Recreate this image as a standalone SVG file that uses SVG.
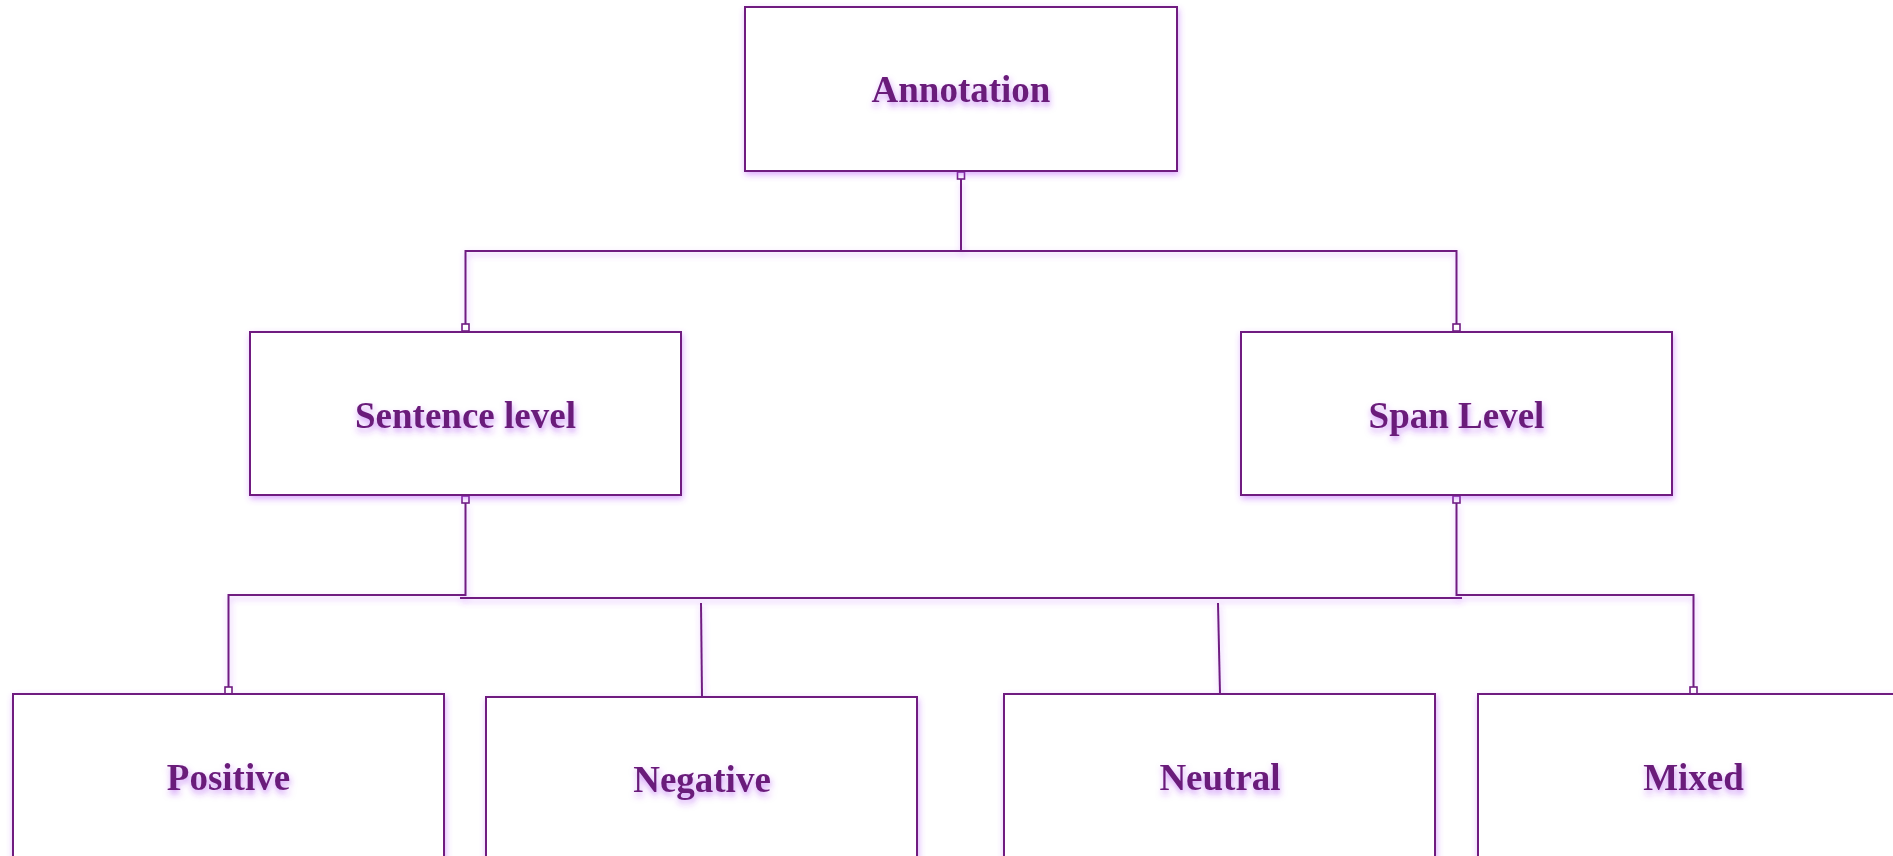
<svg xmlns="http://www.w3.org/2000/svg" width="1893" height="856" viewBox="0 0 1893 856">
<defs>
<filter id="glow" x="-20%" y="-20%" width="140%" height="140%">
<feDropShadow dx="1" dy="3" stdDeviation="3" flood-color="#b44cff" flood-opacity="0.45"/>
</filter>
<filter id="lglow" filterUnits="userSpaceOnUse" x="0" y="0" width="1893" height="856">
<feDropShadow dx="1" dy="3" stdDeviation="3" flood-color="#b44cff" flood-opacity="0.45"/>
</filter>
<filter id="tglow" x="-20%" y="-40%" width="140%" height="180%">
<feDropShadow dx="1" dy="4" stdDeviation="3" flood-color="#a030f0" flood-opacity="0.5"/>
</filter>
</defs>
<style>
.box{fill:#ffffff;stroke:#6f1d80;stroke-width:2;filter:url(#glow)}
.lbl{font-family:"Liberation Serif","Times New Roman",serif;font-weight:bold;font-size:37px;fill:#6a1b7a;text-anchor:middle;filter:url(#tglow)}
.ln{fill:none;stroke:#6f1d80;stroke-width:2;filter:url(#lglow)}
.sq{fill:#ffffff;stroke:#6f1d80;stroke-width:1.6}
</style>
<rect width="1893" height="856" fill="#ffffff"/>
<g id="connectors">
<polyline class="ln" points="961,179 961,251"/>
<polyline class="ln" points="465.5,324 465.5,251 1456.5,251 1456.5,324"/>
<polyline class="ln" points="465.5,503 465.5,595 228.5,595 228.5,687"/>
<polyline class="ln" points="460,598 1462,598"/>
<polyline class="ln" points="701,603 702,697"/>
<polyline class="ln" points="1218,603 1220,694"/>
<polyline class="ln" points="1456.5,503 1456.5,595 1693.5,595 1693.5,687"/>
<rect class="sq" x="957.5" y="172" width="7" height="7"/>
<rect class="sq" x="462" y="324" width="7" height="7"/>
<rect class="sq" x="1453" y="324" width="7" height="7"/>
<rect class="sq" x="462" y="496" width="7" height="7"/>
<rect class="sq" x="1453" y="496" width="7" height="7"/>
<rect class="sq" x="225" y="687" width="7" height="7"/>
<rect class="sq" x="1690" y="687" width="7" height="7"/>
</g>
<g id="annotation">
<rect class="box" x="745" y="7" width="432" height="164"/>
<text class="lbl" x="961" y="102">Annotation</text>
</g>
<g id="sentence-level">
<rect class="box" x="250" y="332" width="431" height="163"/>
<text class="lbl" x="465.5" y="428">Sentence level</text>
</g>
<g id="span-level">
<rect class="box" x="1241" y="332" width="431" height="163"/>
<text class="lbl" x="1456.5" y="428">Span Level</text>
</g>
<g id="positive">
<rect class="box" x="13" y="694" width="431" height="200"/>
<text class="lbl" x="228.5" y="790">Positive</text>
</g>
<g id="negative">
<rect class="box" x="486" y="697" width="431" height="200"/>
<text class="lbl" x="702" y="792">Negative</text>
</g>
<g id="neutral">
<rect class="box" x="1004" y="694" width="431" height="200"/>
<text class="lbl" x="1220" y="790">Neutral</text>
</g>
<g id="mixed">
<rect class="box" x="1478" y="694" width="431" height="200"/>
<text class="lbl" x="1693.5" y="790">Mixed</text>
</g>
</svg>
